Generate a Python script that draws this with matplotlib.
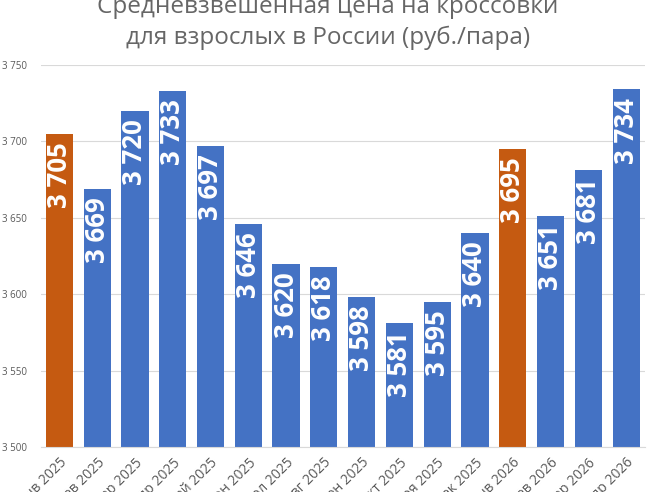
import matplotlib
matplotlib.use("Agg")
import matplotlib.pyplot as plt
from matplotlib.ticker import FuncFormatter

months = ["янв", "фев", "мар", "апр", "май", "июн", "июл", "авг",
          "сен", "окт", "ноя", "дек", "янв", "фев", "мар", "апр"]
years = [2025] * 12 + [2026] * 4
labels = [f"{m} {y}" for m, y in zip(months, years)]
values = [3705, 3669, 3720, 3733, 3697, 3646, 3620, 3618,
          3598, 3581, 3595, 3640, 3695, 3651, 3681, 3734]
highlight = [True] + [False] * 11 + [True] + [False] * 3

BLUE = "#4472C4"
ORANGE = "#C55A11"
GRAY = "#595959"

plt.rcParams['font.family'] = ['Open Sans', 'DejaVu Sans']

fig = plt.figure(figsize=(6.56, 4.92), dpi=100)
ax = fig.add_axes([40.5 / 656, 1 - 447 / 492, (645 - 40.5) / 656, (447 - 65) / 492])

x = list(range(len(values)))
colors = [ORANGE if h else BLUE for h in highlight]
ax.bar(x, values, width=0.72, color=colors, zorder=2)

ax.set_ylim(3500, 3750)
ax.set_xlim(-0.5, len(values) - 0.5)
ax.set_yticks([3500, 3550, 3600, 3650, 3700, 3750])
ax.yaxis.set_major_formatter(FuncFormatter(lambda v, p: f"{int(v):,}".replace(",", " ")))
ax.tick_params(axis='y', labelsize=7, colors=GRAY, length=0, pad=10)
ax.grid(axis='y', color="#D9D9D9", linewidth=0.8, zorder=0)
for s in ["left", "right", "top"]:
    ax.spines[s].set_visible(False)
ax.spines["bottom"].set_color("#D9D9D9")

ax.set_xticks(x)
ax.set_xticklabels(labels, rotation=45, ha="right", rotation_mode="anchor",
                   fontsize=10, color=GRAY)
ax.tick_params(axis='x', length=0, pad=6)

for xi, v in zip(x, values):
    ax.annotate(f"{v:,}".replace(",", " "), xy=(xi, v), xytext=(0, -6),
                textcoords="offset points", rotation=90, ha="center", va="top",
                color="white", fontsize=18.5, fontweight="bold", zorder=3)

fig.text(0.5, 1 - 13 / 492, "Средневзвешенная цена на кроссовки", ha="center", va="baseline",
         fontsize=17.5, color="#666666")
fig.text(0.5, 1 - 44 / 492, "для взрослых в России (руб./пара)", ha="center", va="baseline",
         fontsize=17.5, color="#666666")

fig.savefig("out.png", dpi=100, facecolor="white")
